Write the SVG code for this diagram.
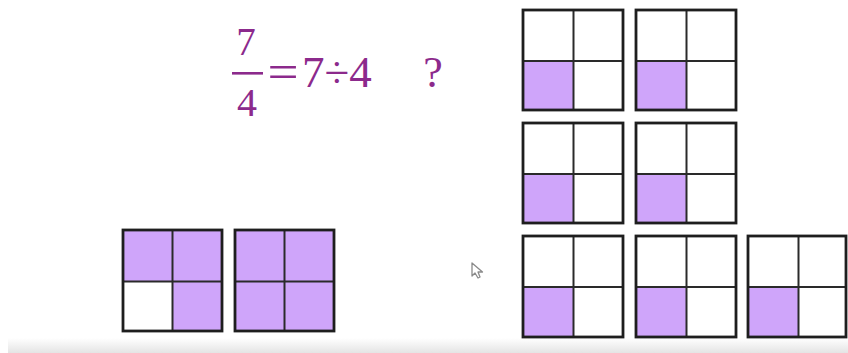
<svg xmlns="http://www.w3.org/2000/svg" width="848" height="353" viewBox="0 0 848 353">
<defs>
<linearGradient id="shade" x1="0" y1="0" x2="0" y2="1">
<stop offset="0" stop-color="#ffffff"/>
<stop offset="1" stop-color="#e4e4e4"/>
</linearGradient>
<style>
.p{fill:#cfa5fa}
.frame{fill:none;stroke:#1e1e1e;stroke-width:2.8}
.div{stroke:#2a2a2a;stroke-width:2}
.t{font-family:"Liberation Serif","Times New Roman",serif;fill:#8c2a8c}
</style>
</defs>
<rect width="848" height="353" fill="#ffffff"/>
<rect x="8" y="338" width="840" height="15" fill="url(#shade)"/>

<g id="equation">
<text class="t" x="246" y="55" font-size="39" text-anchor="middle">7</text>
<rect x="232" y="72" width="31" height="2.6" fill="#8c2a8c"/>
<text class="t" x="247" y="116" font-size="40" text-anchor="middle">4</text>
<text class="t" x="283" y="88" font-size="48" text-anchor="middle" transform="translate(283 0) scale(1.15 1) translate(-283 0)">=</text>
<text class="t" x="302" y="87" font-size="45">7÷4</text>
<text class="t" x="433" y="87" font-size="44" text-anchor="middle">?</text>
</g>

<g id="grid-bl1">
<rect class="p" x="123" y="230" width="99" height="51"/>
<rect class="p" x="172" y="281" width="50" height="50"/>
<line class="div" x1="172.5" y1="230" x2="172.5" y2="331"/>
<line class="div" x1="123" y1="281.5" x2="222" y2="281.5"/>
<rect class="frame" x="123" y="230" width="99" height="101"/>
</g>
<g id="grid-bl2">
<rect class="p" x="235" y="230" width="99" height="101"/>
<line class="div" x1="284.5" y1="230" x2="284.5" y2="331"/>
<line class="div" x1="235" y1="281.5" x2="334" y2="281.5"/>
<rect class="frame" x="235" y="230" width="99" height="101"/>
</g>

<g id="grid-r1a">
<rect class="p" x="523" y="61" width="50" height="49"/>
<line class="div" x1="573.5" y1="10" x2="573.5" y2="110"/>
<line class="div" x1="523" y1="61" x2="623" y2="61"/>
<rect class="frame" x="523" y="10" width="100" height="100"/>
</g>
<g id="grid-r1b">
<rect class="p" x="636" y="61" width="50" height="49"/>
<line class="div" x1="686.5" y1="10" x2="686.5" y2="110"/>
<line class="div" x1="636" y1="61" x2="736" y2="61"/>
<rect class="frame" x="636" y="10" width="100" height="100"/>
</g>

<g id="grid-r2a">
<rect class="p" x="523" y="174" width="50" height="49"/>
<line class="div" x1="573.5" y1="123" x2="573.5" y2="223"/>
<line class="div" x1="523" y1="174" x2="623" y2="174"/>
<rect class="frame" x="523" y="123" width="100" height="100"/>
</g>
<g id="grid-r2b">
<rect class="p" x="636" y="174" width="50" height="49"/>
<line class="div" x1="686.5" y1="123" x2="686.5" y2="223"/>
<line class="div" x1="636" y1="174" x2="736" y2="174"/>
<rect class="frame" x="636" y="123" width="100" height="100"/>
</g>

<g id="grid-r3a">
<rect class="p" x="523" y="287" width="50" height="50"/>
<line class="div" x1="573.5" y1="236" x2="573.5" y2="337"/>
<line class="div" x1="523" y1="287" x2="623" y2="287"/>
<rect class="frame" x="523" y="236" width="100" height="101"/>
</g>
<g id="grid-r3b">
<rect class="p" x="636" y="287" width="50" height="50"/>
<line class="div" x1="686.5" y1="236" x2="686.5" y2="337"/>
<line class="div" x1="636" y1="287" x2="736" y2="287"/>
<rect class="frame" x="636" y="236" width="100" height="101"/>
</g>
<g id="grid-r3c">
<rect class="p" x="748" y="287" width="50" height="50"/>
<line class="div" x1="798.5" y1="236" x2="798.5" y2="337"/>
<line class="div" x1="748" y1="287" x2="847" y2="287"/>
<rect class="frame" x="748" y="236" width="98" height="101"/>
</g>

<g id="cursor">
<path d="M472 263 L472 276 L475 273 L478 278 L480 277 L478 272 L482.5 272 Z" fill="#ffffff" stroke="#8a8a8a" stroke-width="1.3" stroke-linejoin="round"/>
</g>
</svg>
